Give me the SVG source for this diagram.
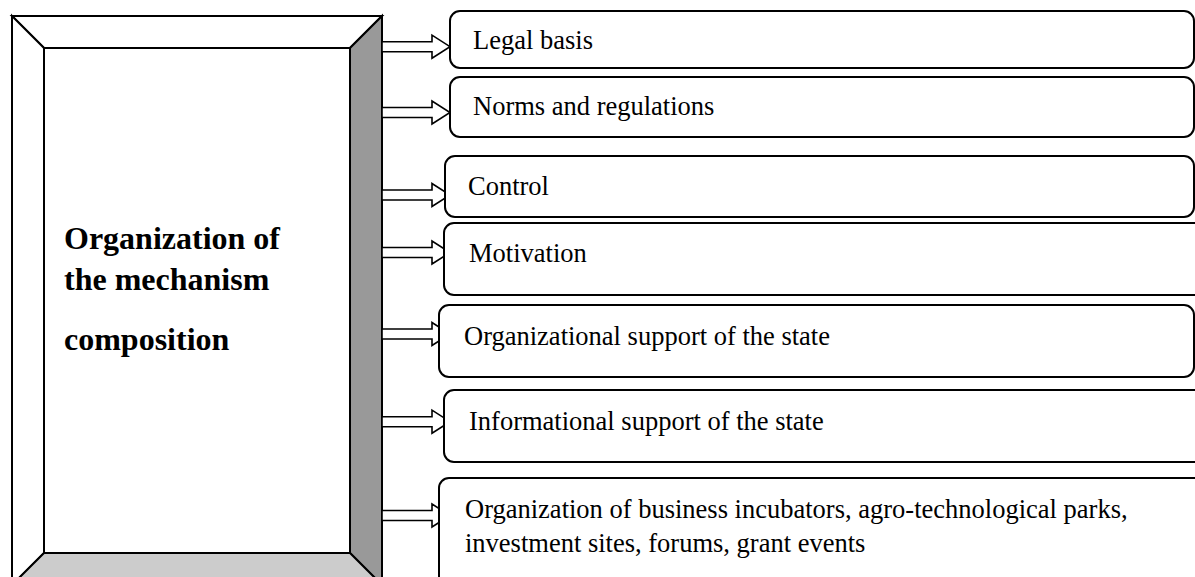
<svg xmlns="http://www.w3.org/2000/svg" width="1195" height="577" viewBox="0 0 1195 577">
  <style>
    .edge { stroke: #000; stroke-width: 2; stroke-linejoin: miter; }
    .box { fill: #fff; stroke: #000; stroke-width: 2; }
    .arrow { fill: #fff; stroke: #000; stroke-width: 1.6; stroke-linejoin: miter; }
    .label { font-family: "Liberation Serif", "Times New Roman", serif; font-size: 26.5px; fill: #000; }
    .title { font-family: "Liberation Serif", "Times New Roman", serif; font-size: 32px; font-weight: bold; fill: #000; }
  </style>
  <defs>
    <!-- hollow block arrow, drawn with its tip at the origin -->
    <polygon id="block-arrow" class="arrow" points="-68,-5 -18,-5 -18,-11.5 0,0 -18,11.5 -18,5 -68,5"/>
  </defs>
  <rect width="1195" height="577" fill="#fff"/>

  <!-- bevelled frame holding the main heading -->
  <g id="mechanism">
    <polygon class="edge" fill="#fff" points="12,16 382,16 350,48 44,48"/>
    <polygon class="edge" fill="#fff" points="12,16 44,48 44,553 12,585"/>
    <polygon class="edge" fill="#999" points="382,16 382,585 350,553 350,48"/>
    <polygon class="edge" fill="#ccc" points="44,553 350,553 382,585 12,585"/>
    <rect class="edge" fill="#fff" x="44" y="48" width="306" height="505"/>
    <text class="title" x="64" y="249">Organization of</text>
    <text class="title" x="64" y="290">the mechanism</text>
    <text class="title" x="64" y="350">composition</text>
  </g>

  <!-- arrows from the frame to each component -->
  <g id="connectors">
    <use href="#block-arrow" x="450" y="46.7"/>
    <use href="#block-arrow" x="450" y="112.5"/>
    <use href="#block-arrow" x="450" y="195"/>
    <use href="#block-arrow" x="450" y="252.5"/>
    <use href="#block-arrow" x="450" y="334"/>
    <use href="#block-arrow" x="450" y="421.7"/>
    <use href="#block-arrow" x="450" y="515.5"/>
  </g>

  <g id="legal-basis">
    <rect class="box" x="450" y="11" width="744" height="57" rx="10"/>
    <text class="label" x="473" y="49">Legal basis</text>
  </g>
  <g id="norms">
    <rect class="box" x="450" y="77" width="744" height="60" rx="10"/>
    <text class="label" x="473" y="115">Norms and regulations</text>
  </g>
  <g id="control">
    <rect class="box" x="445" y="156" width="749" height="61" rx="10"/>
    <text class="label" x="468" y="194.5">Control</text>
  </g>
  <g id="motivation">
    <rect class="box" x="444" y="223" width="770" height="72" rx="10"/>
    <text class="label" x="469" y="261.5">Motivation</text>
  </g>
  <g id="organizational-support">
    <rect class="box" x="439" y="305" width="755" height="72" rx="10"/>
    <text class="label" x="464" y="345">Organizational support of the state</text>
  </g>
  <g id="informational-support">
    <rect class="box" x="444" y="390" width="770" height="72" rx="10"/>
    <text class="label" x="469" y="430">Informational support of the state</text>
  </g>
  <g id="business-infrastructure">
    <rect class="box" x="439" y="478" width="775" height="130" rx="10"/>
    <text class="label" x="465" y="518.3">Organization of business incubators, agro-technological parks,</text>
    <text class="label" x="465" y="551.7">investment sites, forums, grant events</text>
  </g>
</svg>
